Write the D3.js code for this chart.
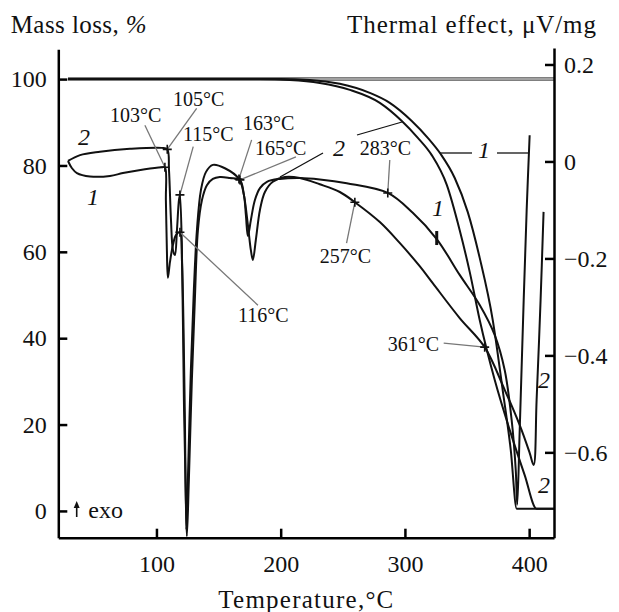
<!DOCTYPE html>
<html>
<head>
<meta charset="utf-8">
<script src="https://cdn.jsdelivr.net/npm/d3@7"></script>
<style>
  body { margin: 0; background: #fff; }
  svg { display: block; font-family: "Liberation Serif", "Times New Roman", serif; }
</style>
</head>
<body>
<svg id="chart" width="619" height="612"></svg>
<script>
// TG curves (mass loss, %)
const tgTemp1 = [28.8, 199.3, 223.5, 247.6, 271.7, 287.8, 305.5, 318.4, 328.9, 340.1, 350.6, 360.2, 370.7, 378.7, 385.2, 390.0, 420];
const tgMass1 = [100, 100, 99.8, 98.9, 96.8, 94.5, 90.3, 86.4, 82.6, 77.1, 69.2, 58.6, 44.2, 28.0, 14.1, 0.5, 0.5];
const tgTemp2 = [28.8, 183.2, 207.4, 231.5, 255.7, 279.8, 297.5, 310.4, 321.6, 333.7, 344.1, 352.2, 360.2, 372.3, 384.4, 396.4, 406.0, 420];
const tgMass2 = [100, 100, 99.8, 99.1, 97.5, 94.5, 90.3, 86.4, 82.4, 75.5, 65.0, 55.3, 44.2, 30.3, 18.7, 8.3, 0.5, 0.5];
const baseTemp = [28.8, 420];
const baseMass = [100, 100];

// DTA curves (thermal effect, uV/mg)
const dtaTemp1 = [28.8, 32.0, 36.0, 46.5, 62.6, 73.0, 90.7, 104.4, 106.8, 107.6, 108.4, 109.2, 110.9, 113.3, 115.7, 118.9, 120.5, 121.7, 122.9, 124.1, 125.3, 127.7, 130.1, 132.6, 135.8, 139.8, 145.4, 155.1, 166.4, 170.4, 172.0, 173.6, 176.0, 179.2, 183.3, 188.9, 199.3, 215.5, 231.5, 253.2, 286.2, 306.3, 325.6, 344.1, 360.2, 372.3, 380.3, 385.9, 389.2, 390.4, 392.4, 395.6, 398.0, 400.4];
const dtaSig1 = [0.001, -0.014, -0.024, -0.031, -0.030, -0.024, -0.016, -0.012, -0.012, -0.080, -0.183, -0.240, -0.207, -0.172, -0.152, -0.146, -0.203, -0.327, -0.533, -0.760, -0.657, -0.430, -0.265, -0.141, -0.059, -0.022, -0.007, -0.014, -0.036, -0.069, -0.111, -0.154, -0.121, -0.080, -0.055, -0.042, -0.036, -0.034, -0.037, -0.045, -0.065, -0.106, -0.160, -0.234, -0.296, -0.358, -0.430, -0.533, -0.636, -0.708, -0.554, -0.286, -0.100, 0.054];
const dtaTemp2 = [28.8, 38.5, 54.5, 78.7, 104.4, 108.7, 110.1, 111.7, 113.3, 114.9, 116.5, 118.1, 118.9, 120.5, 122.1, 123.7, 124.5, 126.1, 128.5, 130.9, 133.4, 136.6, 140.6, 145.4, 151.0, 159.1, 167.2, 170.4, 173.6, 176.0, 177.6, 180.0, 183.3, 187.3, 193.7, 203.4, 215.5, 231.5, 247.6, 259.7, 279.8, 295.8, 311.9, 322.4, 344.1, 364.2, 380.3, 392.4, 400.4, 403.6, 406.0, 409.2, 411.6];
const dtaSig2 = [0.001, 0.013, 0.020, 0.026, 0.028, 0.025, -0.018, -0.121, -0.183, -0.193, -0.142, -0.080, -0.069, -0.183, -0.492, -0.698, -0.773, -0.657, -0.451, -0.286, -0.141, -0.080, -0.049, -0.036, -0.032, -0.034, -0.038, -0.069, -0.131, -0.183, -0.203, -0.162, -0.100, -0.063, -0.042, -0.032, -0.034, -0.047, -0.063, -0.084, -0.125, -0.168, -0.216, -0.251, -0.323, -0.383, -0.471, -0.544, -0.601, -0.626, -0.492, -0.286, -0.104];

// marked points on the DTA curves
const markerTemp = [106.8, 108.7, 118.9, 118.9, 166.4, 167.2, 259.7, 286.2, 364.2];
const markerSig = [-0.012, 0.025, -0.069, -0.146, -0.036, -0.038, -0.084, -0.065, -0.383];
const markerLabel = ["103°C", "105°C", "115°C", "116°C", "163°C", "165°C", "257°C", "283°C", "361°C"];
const tickMarkTemp = [325.6];
const tickMarkSig = [-0.160];

const xTicks = [100, 200, 300, 400];
const massTicks = [0, 20, 40, 60, 80, 100];
const sigTicks = [-0.6, -0.4, -0.2, 0, 0.2];

// layout
const labelOffset = [[-55, -45], [5.7, -43.3], [3, -53.5], [58, 90], [4, -49], [15, -25], [-35, 61], [-28, -38], [-97, 4]];
const leaderOffset = [[-20, -42], [29.4, -41], [13.3, -48.3], [78, 73], [12.7, -39], [56, -23], [-8.3, 41], [2, -33], [-41, -4]];
const curveNums = [
  { t: "2", x: 78, y: 145 }, { t: "1", x: 87, y: 205 }, { t: "2", x: 333, y: 156 },
  { t: "1", x: 432, y: 216 }, { t: "1", x: 478, y: 158 }, { t: "2", x: 538, y: 388 }, { t: "2", x: 538, y: 493 }
];
const blackLeaders = [[280, 177, 323, 153], [357, 135, 402, 122], [440, 153, 472, 153], [497, 153, 528, 153]];

const svg = d3.select("#chart");

const x = d3.scaleLinear().domain([21, 420]).range([58.3, 554]);
const yMass = d3.scaleLinear().domain([-6.2, 106.9]).range([537.7, 49.3]);
const ySig = d3.scaleLinear().domain([-0.776, 0.234]).range([537.7, 48]);

const zip = (a, b) => a.map((v, i) => [v, b[i]]);

const lineMass = d3.line().x(d => x(d[0])).y(d => yMass(d[1])).curve(d3.curveMonotoneX);
const lineSig = d3.line().x(d => x(d[0])).y(d => ySig(d[1])).curve(d3.curveCatmullRom.alpha(0.5));

// grey 100% baseline
svg.append("path").attr("d", lineMass(zip(baseTemp, baseMass)))
  .attr("fill", "none").attr("stroke", "#555").attr("stroke-width", 3.5);
svg.append("path").attr("d", lineMass(zip(baseTemp, baseMass)))
  .attr("fill", "none").attr("stroke", "#bbb").attr("stroke-width", 1.5);

// curves
[[tgTemp1, tgMass1], [tgTemp2, tgMass2]].forEach(c => {
  svg.append("path").attr("d", lineMass(zip(c[0], c[1])))
    .attr("fill", "none").attr("stroke", "#111").attr("stroke-width", 2);
});
[[dtaTemp1, dtaSig1], [dtaTemp2, dtaSig2]].forEach(c => {
  svg.append("path").attr("d", lineSig(zip(c[0], c[1])))
    .attr("fill", "none").attr("stroke", "#111").attr("stroke-width", 2)
    .attr("stroke-linejoin", "round");
});

// markers, leaders, labels
markerTemp.forEach((t, i) => {
  const px = x(t), py = ySig(markerSig[i]);
  svg.append("line")
    .attr("x1", px + leaderOffset[i][0]).attr("y1", py + leaderOffset[i][1])
    .attr("x2", px).attr("y2", py)
    .attr("stroke", "#777").attr("stroke-width", 1.3);
  svg.append("path")
    .attr("d", `M${px - 4.5},${py}H${px + 4.5}M${px},${py - 4.5}V${py + 4.5}`)
    .attr("stroke", "#111").attr("stroke-width", 1.6);
  svg.append("text")
    .attr("x", px + labelOffset[i][0]).attr("y", py + labelOffset[i][1])
    .attr("font-size", 20).attr("fill", "#111")
    .text(markerLabel[i]);
});

tickMarkTemp.forEach((t, i) => {
  const px = x(t), py = ySig(tickMarkSig[i]);
  svg.append("line").attr("x1", px).attr("x2", px)
    .attr("y1", py - 8).attr("y2", py + 6)
    .attr("stroke", "#111").attr("stroke-width", 3);
});

blackLeaders.forEach(l => {
  svg.append("line").attr("x1", l[0]).attr("y1", l[1]).attr("x2", l[2]).attr("y2", l[3])
    .attr("stroke", "#111").attr("stroke-width", 1.3);
});

curveNums.forEach(c => {
  svg.append("text").attr("x", c.x).attr("y", c.y)
    .attr("font-size", 24).attr("font-style", "italic").attr("fill", "#111")
    .text(c.t);
});

// axes
function styleAxis(g) {
  g.attr("font-family", null).attr("font-size", 24);
  g.select(".domain").attr("stroke", "#000").attr("stroke-width", 2.5);
  g.selectAll(".tick line").attr("stroke", "#000").attr("stroke-width", 2.5);
  g.selectAll(".tick text").attr("fill", "#111");
}

svg.append("g").attr("transform", "translate(58.3,0)")
  .call(d3.axisLeft(yMass).tickValues(massTicks).tickSizeInner(-9).tickSizeOuter(0).tickPadding(11.6))
  .call(styleAxis);

svg.append("g").attr("transform", "translate(554,0)")
  .call(d3.axisRight(ySig).tickValues(sigTicks).tickSizeInner(-9).tickSizeOuter(0).tickPadding(10)
    .tickFormat(d => d === 0 ? "0" : d3.format(".1f")(d)))
  .call(styleAxis);

svg.append("g").attr("transform", "translate(0,537.7)")
  .call(d3.axisBottom(x).tickValues(xTicks).tickSizeInner(-9).tickSizeOuter(0).tickPadding(17))
  .call(styleAxis);

// titles
const t1 = svg.append("text").attr("x", 10.7).attr("y", 33).attr("font-size", 25)
  .attr("textLength", 136).attr("fill", "#111");
t1.append("tspan").text("Mass loss, ");
t1.append("tspan").attr("font-style", "italic").text("%");

svg.append("text").attr("x", 347).attr("y", 33).attr("font-size", 25)
  .attr("textLength", 249).attr("fill", "#111")
  .text("Thermal effect, μV/mg");

svg.append("text").attr("x", 218.3).attr("y", 607.7).attr("font-size", 25)
  .attr("textLength", 175).attr("fill", "#111")
  .text("Temperature,°C");

// exo arrow
svg.append("line").attr("x1", 76.7).attr("x2", 76.7).attr("y1", 517).attr("y2", 507)
  .attr("stroke", "#111").attr("stroke-width", 1.6);
svg.append("path").attr("d", "M73.7,508 L76.7,501 L79.7,508 Z").attr("fill", "#111");
svg.append("text").attr("x", 88.3).attr("y", 518).attr("font-size", 24).attr("fill", "#111").text("exo");
</script>
</body>
</html>
